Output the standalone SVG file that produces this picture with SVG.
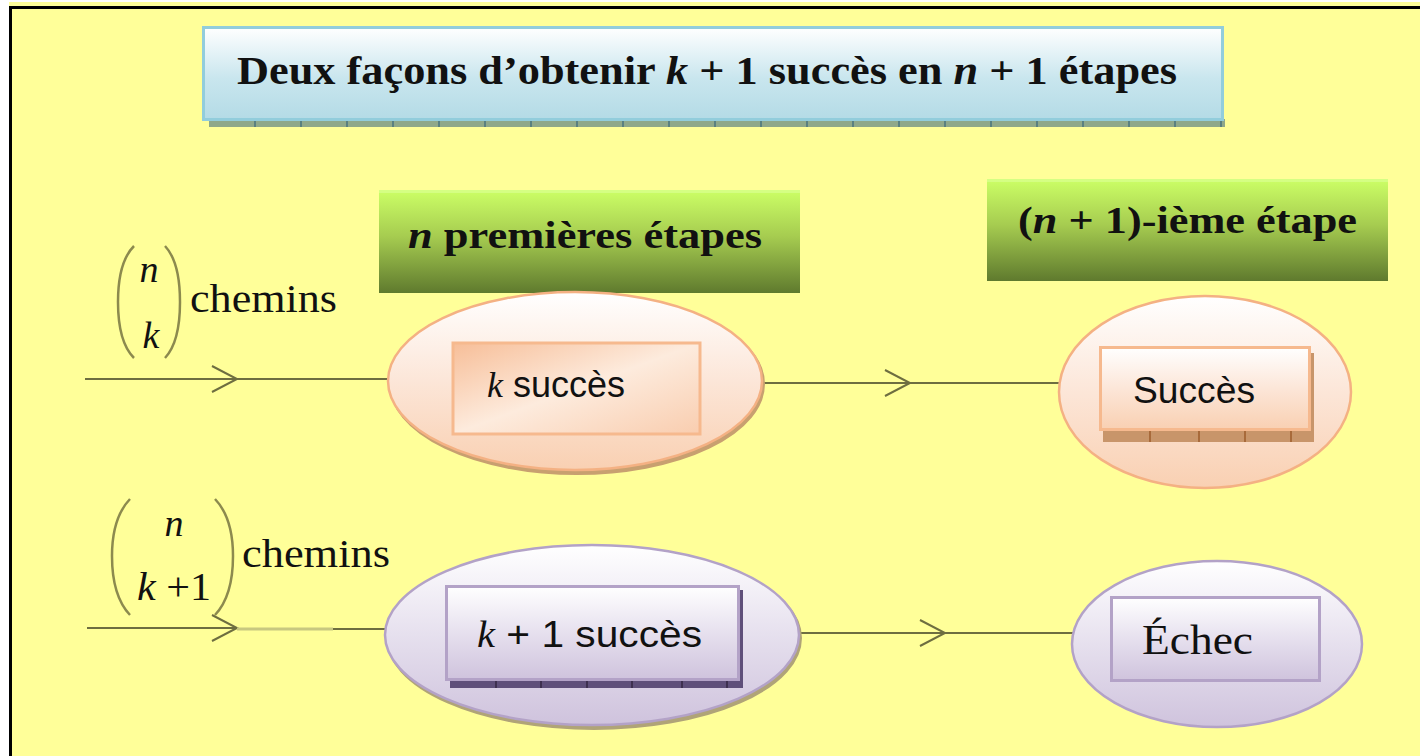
<svg xmlns="http://www.w3.org/2000/svg" width="1420" height="756" viewBox="0 0 1420 756">
<defs>
<linearGradient id="gBlue" x1="0" y1="0" x2="0" y2="1"><stop offset="0" stop-color="#FFFFFF"/><stop offset="0.55" stop-color="#C9E6EE"/><stop offset="1" stop-color="#B4DBE6"/></linearGradient>
<linearGradient id="gGreen" x1="0" y1="0" x2="0" y2="1"><stop offset="0" stop-color="#CCFF66"/><stop offset="0.45" stop-color="#A6CC50"/><stop offset="1" stop-color="#5F7A2E"/></linearGradient>
<linearGradient id="gPeach" x1="0" y1="0" x2="0" y2="1"><stop offset="0" stop-color="#FFFFFF"/><stop offset="0.5" stop-color="#FCE6D8"/><stop offset="1" stop-color="#F9D0B2"/></linearGradient>
<linearGradient id="gPeachBox" x1="0" y1="0" x2="1" y2="1"><stop offset="0" stop-color="#F7BE98"/><stop offset="0.5" stop-color="#FDEBDD"/><stop offset="1" stop-color="#F9CDAF"/></linearGradient>
<linearGradient id="gLav" x1="0" y1="0" x2="0" y2="1"><stop offset="0" stop-color="#FFFFFF"/><stop offset="0.5" stop-color="#E6E0EE"/><stop offset="1" stop-color="#CFC3DD"/></linearGradient>
<marker id="chev" viewBox="0 0 30 30" refX="27" refY="15" markerWidth="30" markerHeight="30" markerUnits="userSpaceOnUse" orient="auto"><path d="M2,2 L27,15 L2,28" fill="none" stroke="#6E6E40" stroke-width="2"/></marker>
<style>
.t{font-family:"Liberation Serif","Times New Roman",serif;fill:#111;}
.b{font-weight:bold;}
.s{font-family:"Liberation Sans",Arial,sans-serif;fill:#111;}
.i{font-style:italic;font-family:"Liberation Serif",serif;}
.ln{stroke:#6E6E40;stroke-width:2;fill:none;}
.par{stroke:#8C8A4E;stroke-width:2.5;fill:none;}
</style>
</defs>
<rect width="1420" height="756" fill="#FFFFFF"/>
<rect x="9" y="2" width="1411" height="754" fill="#FFFF99"/>
<rect x="9" y="6" width="1411" height="3" fill="#000"/>
<rect x="9" y="6" width="3" height="750" fill="#000"/>

<g id="title">
<rect x="209" y="119" width="1016" height="8" fill="#8FA88A"/>
<path d="M255,119v8M301,119v8M347,119v8M393,119v8M439,119v8M485,119v8M531,119v8M577,119v8M623,119v8M669,119v8M715,119v8M761,119v8M807,119v8M853,119v8M899,119v8M945,119v8M991,119v8M1037,119v8M1083,119v8M1129,119v8M1175,119v8M1221,119v8" stroke="#5A8080" stroke-width="2"/>
<rect x="203.5" y="27.5" width="1019" height="92" fill="url(#gBlue)" stroke="#92CDDC" stroke-width="3"/>
<text class="t b" x="237" y="84" font-size="40" textLength="940" lengthAdjust="spacingAndGlyphs">Deux façons d’obtenir <tspan class="i">k</tspan> + 1 succès en <tspan class="i">n</tspan> + 1 étapes</text>
</g>

<g id="step1">
<rect x="379" y="190" width="421" height="103" fill="url(#gGreen)"/>
<rect x="379" y="190" width="421" height="3" fill="#D8FF90" opacity="0.7"/>
<text class="t b" x="408" y="248" font-size="38" textLength="354" lengthAdjust="spacingAndGlyphs"><tspan class="i">n</tspan> premières étapes</text>
</g>

<g id="step2">
<rect x="987" y="179" width="401" height="102" fill="url(#gGreen)"/>
<rect x="987" y="179" width="401" height="3" fill="#D8FF90" opacity="0.7"/>
<text class="t b" x="1018" y="233" font-size="38" textLength="339" lengthAdjust="spacingAndGlyphs">(<tspan class="i">n</tspan> + 1)-ième étape</text>
</g>

<g id="label1">
<path class="par" d="M134,246 Q118,262 118,302 Q118,342 134,358"/>
<path class="par" d="M165,246 Q180,262 180,302 Q180,342 165,358"/>
<text class="t i" x="149" y="282" font-size="38" text-anchor="middle">n</text>
<text class="t i" x="151" y="348" font-size="38" text-anchor="middle">k</text>
<text class="t" x="190" y="312" font-size="40" textLength="147" lengthAdjust="spacingAndGlyphs">chemins</text>
</g>

<g id="label2">
<path class="par" d="M130,499 Q112,518 112,556 Q112,596 130,615"/>
<path class="par" d="M215,499 Q233,518 233,556 Q233,596 215,615"/>
<text class="t i" x="174" y="536" font-size="38" text-anchor="middle">n</text>
<text class="t" x="137" y="600" font-size="40" textLength="74" lengthAdjust="spacingAndGlyphs"><tspan class="i">k</tspan> +1</text>
<text class="t" x="242" y="567" font-size="40" textLength="148" lengthAdjust="spacingAndGlyphs">chemins</text>
</g>

<g id="connectors">
<line class="ln" x1="85" y1="379" x2="237" y2="379" marker-end="url(#chev)"/>
<line class="ln" x1="237" y1="379" x2="390" y2="379"/>
<line class="ln" x1="762" y1="383" x2="910" y2="383" marker-end="url(#chev)"/>
<line class="ln" x1="910" y1="383" x2="1060" y2="383"/>
<line class="ln" x1="87" y1="628" x2="237" y2="628" marker-end="url(#chev)"/>
<line x1="237" y1="629" x2="333" y2="629" stroke="#C8C880" stroke-width="3"/>
<line class="ln" x1="333" y1="629" x2="388" y2="629"/>
<line class="ln" x1="800" y1="633" x2="945" y2="633" marker-end="url(#chev)"/>
<line class="ln" x1="945" y1="633" x2="1073" y2="633"/>
</g>

<g id="ellipse-k">
<ellipse cx="577" cy="384" rx="187" ry="90" fill="#C8A070" stroke="#C8A070" stroke-width="2"/>
<ellipse cx="575" cy="381" rx="187" ry="89" fill="url(#gPeach)" stroke="#F4B183" stroke-width="2.5"/>
<rect x="453" y="343" width="247" height="91" fill="url(#gPeachBox)" stroke="#F6B98E" stroke-width="3"/>
<text class="s" x="487" y="397" font-size="36"><tspan class="i">k</tspan> succès</text>
</g>

<g id="ellipse-succes">
<ellipse cx="1205" cy="392" rx="146" ry="96" fill="url(#gPeach)" stroke="#F4B183" stroke-width="2.5"/>
<rect x="1103" y="353" width="211" height="89" fill="#C8956A"/>
<path d="M1150,430v12M1199,430v12M1245,430v12M1291,430v12" stroke="#A86A3A" stroke-width="2"/>
<rect x="1100.5" y="347.5" width="209" height="82" fill="url(#gPeach)" stroke="#F6B98E" stroke-width="3"/>
<text class="s" x="1133" y="403" font-size="37" textLength="122" lengthAdjust="spacingAndGlyphs">Succès</text>
</g>

<g id="ellipse-k1">
<ellipse cx="594" cy="638" rx="207" ry="91" fill="#B0A478" stroke="#B0A478" stroke-width="2"/>
<ellipse cx="592" cy="635" rx="207" ry="90" fill="url(#gLav)" stroke="#B3A2C7" stroke-width="2.5"/>
<rect x="450" y="590" width="293" height="98" fill="#5F4F7A"/>
<path d="M496,680v8M541,680v8M587,680v8M632,680v8M682,680v8M727,680v8" stroke="#3E3050" stroke-width="2"/>
<rect x="446.5" y="586.5" width="292" height="93" fill="url(#gLav)" stroke="#B3A2C7" stroke-width="3"/>
<text class="s" x="477" y="647" font-size="37" textLength="225" lengthAdjust="spacingAndGlyphs"><tspan class="i">k</tspan> + 1 succès</text>
</g>

<g id="ellipse-echec">
<ellipse cx="1217" cy="644" rx="145" ry="83" fill="url(#gLav)" stroke="#B3A2C7" stroke-width="2.5"/>
<rect x="1111.5" y="597.5" width="208" height="83" fill="url(#gLav)" stroke="#B3A2C7" stroke-width="3"/>
<text class="t" x="1142" y="654" font-size="42" textLength="111" lengthAdjust="spacingAndGlyphs">Échec</text>
</g>
</svg>
